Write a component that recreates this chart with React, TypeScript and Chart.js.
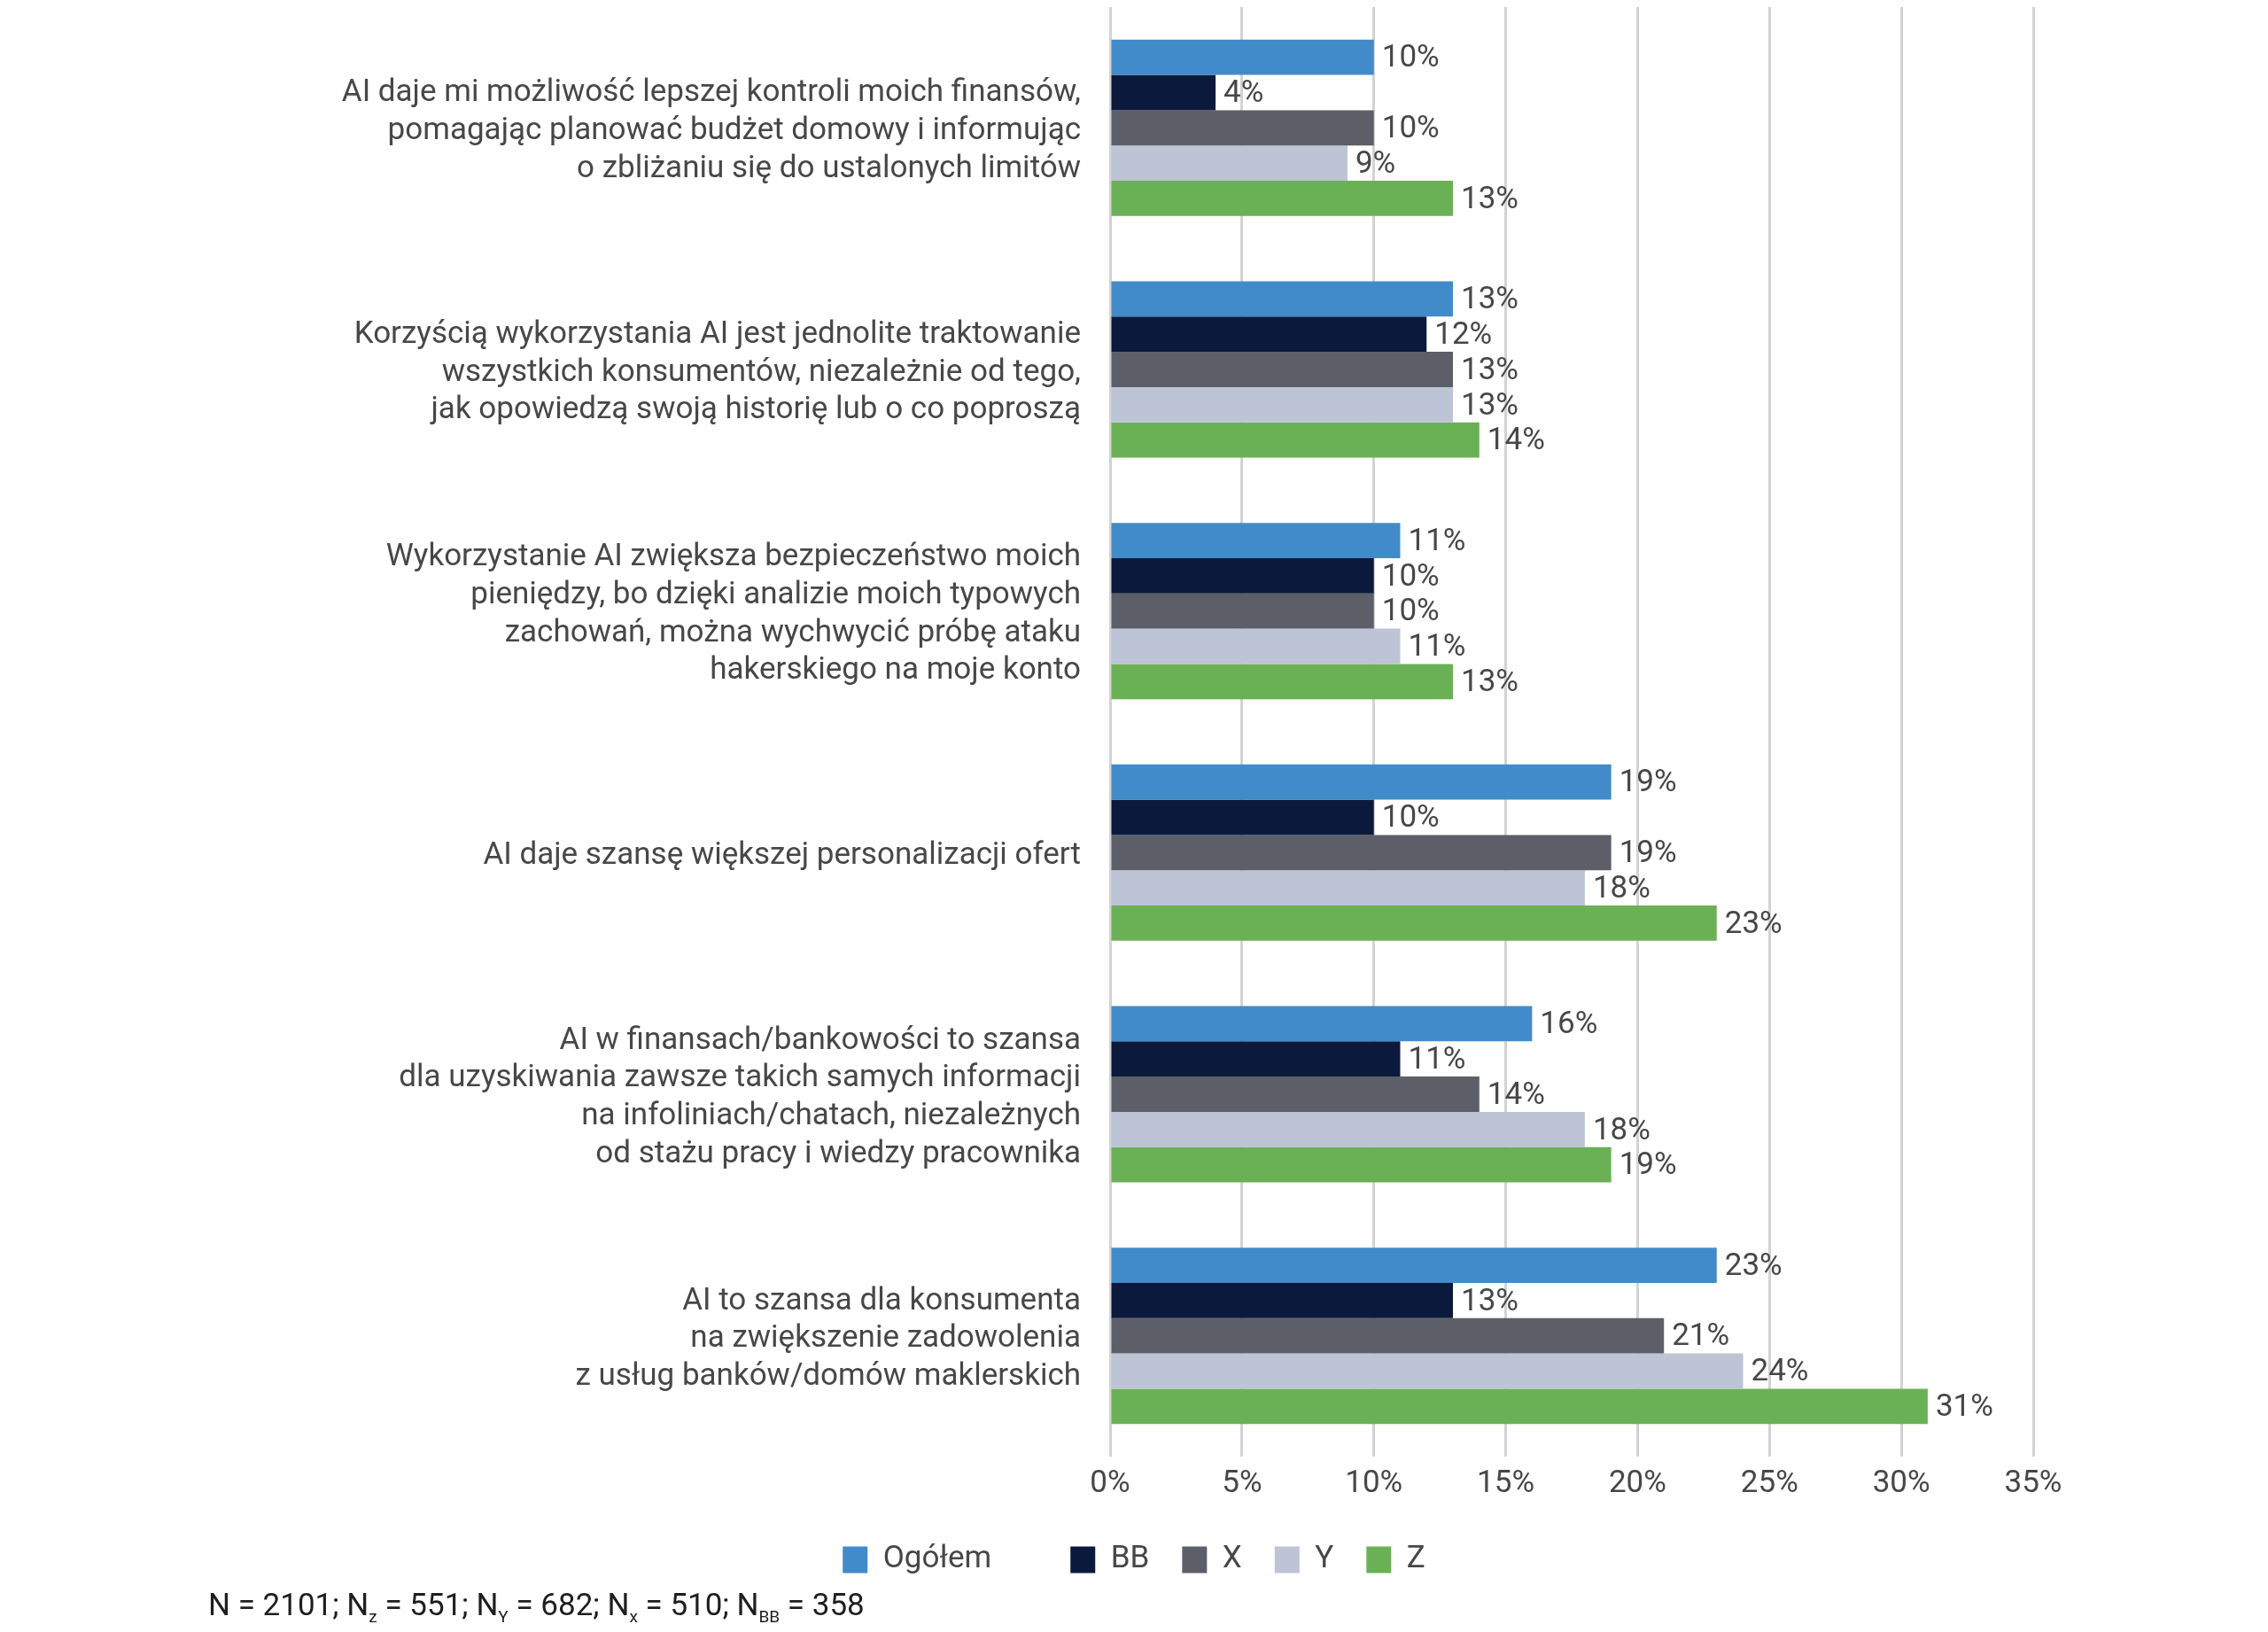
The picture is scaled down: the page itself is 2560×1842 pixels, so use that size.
import { useEffect, useRef } from 'react';
import { Chart, registerables } from 'chart.js';

Chart.register(...registerables);

const categories: string[][] = [
  ['AI daje mi możliwość lepszej kontroli moich finansów,', 'pomagając planować budżet domowy i informując', 'o zbliżaniu się do ustalonych limitów'],
  ['Korzyścią wykorzystania AI jest jednolite traktowanie', 'wszystkich konsumentów, niezależnie od tego,', 'jak opowiedzą swoją historię lub o co poproszą'],
  ['Wykorzystanie AI zwiększa bezpieczeństwo moich', 'pieniędzy, bo dzięki analizie moich typowych', 'zachowań, można wychwycić próbę ataku', 'hakerskiego na moje konto'],
  ['AI daje szansę większej personalizacji ofert'],
  ['AI w finansach/bankowości to szansa', 'dla uzyskiwania zawsze takich samych informacji', 'na infoliniach/chatach, niezależnych', 'od stażu pracy i wiedzy pracownika'],
  ['AI to szansa dla konsumenta', 'na zwiększenie zadowolenia', 'z usług banków/domów maklerskich'],
];

const ogolem = [10, 13, 11, 19, 16, 23];
const bb = [4, 12, 10, 10, 11, 13];
const x = [10, 13, 10, 19, 14, 21];
const y = [9, 13, 11, 18, 18, 24];
const z = [13, 14, 13, 23, 19, 31];

const seriesNames = ['Ogółem', 'BB', 'X', 'Y', 'Z'];
const seriesColors = ['#428BCA', '#0B1A3C', '#5C5F68', '#BDC4D6', '#6AB155'];

const FONT = 'Roboto, "Noto Sans", sans-serif';
const TEXT = '#474747';

const valueLabels = {
  id: 'valueLabels',
  afterDatasetsDraw(chart: Chart) {
    const ctx = chart.ctx;
    ctx.save();
    ctx.font = `35px ${FONT}`;
    ctx.fillStyle = TEXT;
    ctx.textAlign = 'left';
    ctx.textBaseline = 'middle';
    chart.data.datasets.forEach((ds, i) => {
      const meta = chart.getDatasetMeta(i);
      meta.data.forEach((el: any, j: number) => {
        ctx.fillText(`${ds.data[j]}%`, el.x + 9, el.y + 2);
      });
    });
    ctx.restore();
  },
};

export default function App() {
  const canvasRef = useRef<HTMLCanvasElement>(null);
  const chartRef = useRef<Chart | null>(null);

  useEffect(() => {
    if (!canvasRef.current) return;
    if (chartRef.current) chartRef.current.destroy();
    const values = [ogolem, bb, x, y, z];
    chartRef.current = new Chart(canvasRef.current, {
      type: 'bar',
      data: {
        labels: categories,
        datasets: values.map((d, i) => ({
          label: seriesNames[i],
          data: d,
          backgroundColor: seriesColors[i],
          borderWidth: 0,
          categoryPercentage: 0.73,
          barPercentage: 1.0,
        })),
      },
      options: {
        indexAxis: 'y',
        responsive: true,
        maintainAspectRatio: false,
        animation: false,
        layout: { padding: { left: 0, right: 0, top: 0, bottom: 46 } },
        plugins: {
          tooltip: { enabled: false },
          legend: {
            position: 'bottom',
            labels: {
              boxWidth: 28,
              boxHeight: 30,
              padding: 37,
              color: TEXT,
              font: { family: FONT, size: 35 },
              generateLabels: (chart: Chart) => {
                const items = Chart.defaults.plugins.legend.labels.generateLabels(chart);
                // the first entry sits further from the next one in the original
                items[0].text = items[0].text + '\u00a0\u00a0\u00a0\u00a0\u00a0\u00a0';
                return items;
              },
            },
          },
        },
        scales: {
          x: {
            min: 0,
            max: 35,
            afterFit: (scale: any) => {
              scale.paddingRight = 257;
            },
            ticks: {
              stepSize: 5,
              callback: (v: any) => `${v}%`,
              color: TEXT,
              font: { family: FONT, size: 35 },
              padding: 10,
            },
            grid: { color: '#D3D3D3', lineWidth: 3, drawTicks: false },
            border: { display: false },
          },
          y: {
            afterFit: (scale: any) => {
              scale.width = 1245;
              scale.paddingTop = 0;
              scale.paddingBottom = 0;
            },
            ticks: {
              autoSkip: false,
              color: TEXT,
              font: { family: FONT, size: 35, lineHeight: 1.22 },
              padding: 33,
              labelOffset: 4,
            },
            grid: { display: false, drawTicks: false },
            border: { display: false },
          },
        },
      },
      plugins: [valueLabels],
    });
    return () => {
      if (chartRef.current) {
        chartRef.current.destroy();
        chartRef.current = null;
      }
    };
  }, []);

  const sub = { fontSize: 19 };
  return (
    <div style={{ position: 'relative', width: '100%', height: 1826 }}>
      <canvas ref={canvasRef}></canvas>
      <div
        style={{
          position: 'absolute',
          left: 227,
          top: 1786,
          fontFamily: FONT,
          fontSize: 35,
          color: '#1E1E1E',
          whiteSpace: 'nowrap',
          lineHeight: 1,
        }}
      >
        N = 2101; N<sub style={sub}>z</sub> = 551; N<sub style={sub}>Y</sub> = 682; N<sub style={sub}>x</sub> = 510; N
        <sub style={sub}>BB</sub> = 358
      </div>
    </div>
  );
}
